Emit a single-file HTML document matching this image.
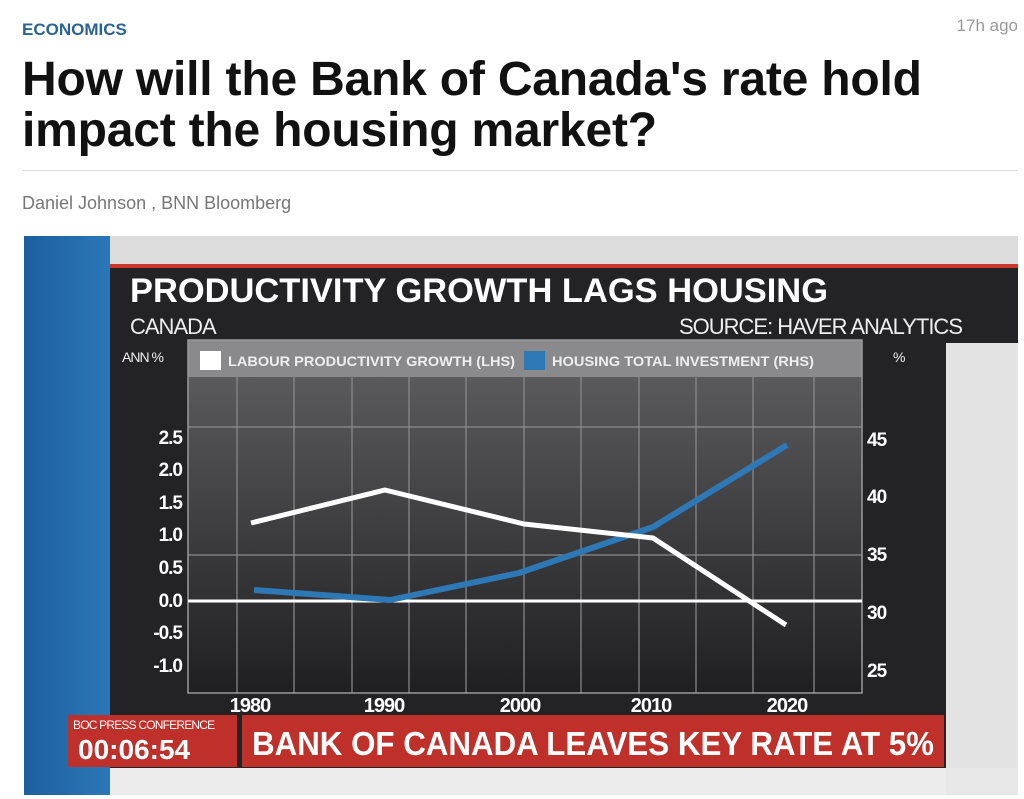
<!DOCTYPE html>
<html><head><meta charset="utf-8"><style>
body{margin:0;width:1024px;height:799px;background:#fff;font-family:"Liberation Sans",sans-serif;overflow:hidden;position:relative}
.a{position:absolute;white-space:nowrap}
</style></head><body>
<div class="a" style="left:22px;top:20px;font-size:17px;font-weight:bold;color:#2a6496">ECONOMICS</div>
<div class="a" style="right:6px;top:16px;font-size:17px;color:#999">17h ago</div>
<div class="a" style="left:22px;top:54px;font-size:48px;font-weight:bold;color:#111;line-height:51px;letter-spacing:-0.2px">How will the Bank of Canada's rate hold<br>impact the housing market?</div>
<div class="a" style="left:22px;top:170px;width:996px;height:1px;background:#ddd"></div>
<div class="a" style="left:22px;top:193px;font-size:18px;color:#777">Daniel Johnson , BNN Bloomberg</div>
<svg class="a" style="left:0;top:0" width="1024" height="799" xmlns="http://www.w3.org/2000/svg" font-family="Liberation Sans, sans-serif">
<defs>
<linearGradient id="bl" x1="0" x2="1"><stop offset="0" stop-color="#1d5f9e"/><stop offset="1" stop-color="#2b77b8"/></linearGradient>
<linearGradient id="pl" x1="0" y1="0" x2="0" y2="1"><stop offset="0" stop-color="#5a5a5c"/><stop offset="1" stop-color="#1f1f21"/></linearGradient>
</defs>
<rect x="24" y="236" width="994" height="559" fill="#e8e8e8"/>
<rect x="24" y="236" width="86" height="559" fill="url(#bl)"/>
<rect x="110" y="236" width="908" height="28" fill="#dcdcdc"/>
<rect x="110" y="264" width="908" height="4" fill="#c8392b"/>
<rect x="110" y="268" width="908" height="500" fill="#232326"/>
<rect x="946" y="343" width="72" height="425" fill="#e3e3e3"/>
<rect x="110" y="768" width="836" height="27" fill="#ececec"/>
<text x="130" y="302" font-size="34" font-weight="bold" fill="#fff" textLength="698" lengthAdjust="spacingAndGlyphs">PRODUCTIVITY GROWTH LAGS HOUSING</text>
<text x="130" y="334" font-size="22" fill="#eee" letter-spacing="-1">CANADA</text>
<text x="962" y="334" font-size="22" fill="#eee" text-anchor="end" letter-spacing="-1">SOURCE: HAVER ANALYTICS</text>
<rect x="188" y="377" width="674" height="316" fill="url(#pl)"/>
<rect x="188" y="340" width="674" height="37" fill="#8a8a8c"/>
<text x="122" y="362" font-size="14" fill="#eee" letter-spacing="-1">ANN %</text>
<text x="893" y="362" font-size="14" fill="#eee">%</text>
<rect x="200" y="351" width="21" height="19" fill="#fff"/>
<text x="228" y="366" font-size="14" font-weight="bold" fill="#eee" textLength="287" lengthAdjust="spacingAndGlyphs">LABOUR PRODUCTIVITY GROWTH (LHS)</text>
<rect x="524" y="351" width="21" height="19" fill="#2e78b6"/>
<text x="552" y="366" font-size="14" font-weight="bold" fill="#eee" textLength="262" lengthAdjust="spacingAndGlyphs">HOUSING TOTAL INVESTMENT (RHS)</text>
<g stroke="#8c8c8e" stroke-width="1.2">
<line x1="237" y1="377" x2="237" y2="693"/><line x1="294" y1="377" x2="294" y2="693"/><line x1="352" y1="377" x2="352" y2="693"/><line x1="409" y1="377" x2="409" y2="693"/><line x1="466" y1="377" x2="466" y2="693"/><line x1="524" y1="377" x2="524" y2="693"/><line x1="581" y1="377" x2="581" y2="693"/><line x1="639" y1="377" x2="639" y2="693"/><line x1="696" y1="377" x2="696" y2="693"/><line x1="753" y1="377" x2="753" y2="693"/><line x1="814" y1="377" x2="814" y2="693"/>
<line x1="188" y1="427" x2="862" y2="427"/><line x1="188" y1="555" x2="862" y2="555"/>
</g>
<rect x="188" y="340" width="674" height="353" fill="none" stroke="#9a9a9a" stroke-width="1.5"/>
<line x1="188" y1="601" x2="862" y2="601" stroke="#fff" stroke-width="3"/>
<polyline points="254,590 390,600 519,573 653,527 787,445" fill="none" stroke="#2e78b6" stroke-width="6" stroke-linejoin="round"/>
<polyline points="251,523 385,490 524,524 653,538 786,625" fill="none" stroke="#fff" stroke-width="5" stroke-linejoin="round"/>
<g font-size="19" font-weight="bold" fill="#fff" text-anchor="end" letter-spacing="-1">
<text x="182" y="444">2.5</text><text x="182" y="476">2.0</text><text x="182" y="509">1.5</text><text x="182" y="541">1.0</text><text x="182" y="574">0.5</text><text x="182" y="607">0.0</text><text x="182" y="639">-0.5</text><text x="182" y="672">-1.0</text>
</g>
<g font-size="19" font-weight="bold" fill="#fff" letter-spacing="-1">
<text x="867" y="446">45</text><text x="867" y="503">40</text><text x="867" y="561">35</text><text x="867" y="619">30</text><text x="867" y="677">25</text>
</g>
<g font-size="20" font-weight="bold" fill="#fff" text-anchor="middle" letter-spacing="-1">
<text x="250" y="712">1980</text><text x="384" y="712">1990</text><text x="520" y="712">2000</text><text x="651" y="712">2010</text><text x="787" y="712">2020</text>
</g>
<rect x="68" y="715" width="169" height="52" fill="#c0302a"/>
<rect x="242" y="715" width="702" height="52" fill="#c0302a"/>
<text x="73" y="729" font-size="12" fill="#fff" letter-spacing="-0.8">BOC PRESS CONFERENCE</text>
<text x="78" y="759" font-size="28" font-weight="bold" fill="#fff">00:06:54</text>
<text x="252" y="755" font-size="33" font-weight="bold" fill="#fff" textLength="682" lengthAdjust="spacingAndGlyphs">BANK OF CANADA LEAVES KEY RATE AT 5%</text>
</svg>
</body></html>
